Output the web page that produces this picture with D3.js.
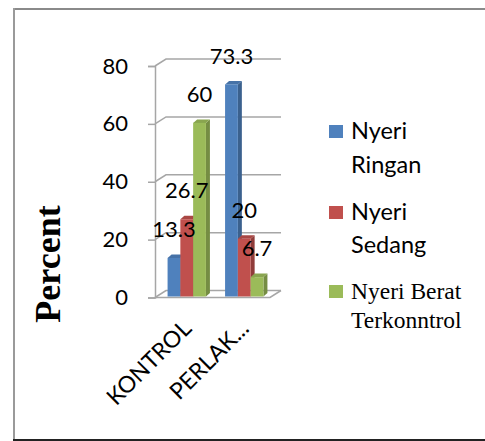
<!DOCTYPE html>
<html>
<head>
<meta charset="utf-8">
<script src="https://cdn.jsdelivr.net/npm/d3@7/dist/d3.min.js"></script>
<style>
  html, body { margin: 0; padding: 0; background: #fff; }
  svg { display: block; }
</style>
</head>
<body>
<svg id="chart" width="485" height="441"></svg>
<script>
// Chart data
const categories = ["KONTROL", "PERLAK..."];
const seriesNames = ["Nyeri Ringan", "Nyeri Sedang", "Nyeri Berat Terkonntrol"];
const nyeriRingan = [13.3, 73.3];
const nyeriSedang = [26.7, 20];
const nyeriBerat = [60, 6.7];
const yTicks = [0, 20, 40, 60, 80];
const seriesColors = ["#4F81BD", "#C0504D", "#9BBB59"];

const seriesValues = [nyeriRingan, nyeriSedang, nyeriBerat];

const svg = d3.select("#chart");
const sansFont = "Lato, 'Open Sans', sans-serif";
const serifFont = "'Liberation Serif', 'Times New Roman', serif";

// Outer frame
svg.append("line").attr("x1", 14).attr("y1", 9).attr("x2", 485).attr("y2", 9)
  .attr("stroke", "#8a8a8a").attr("stroke-width", 2);
svg.append("line").attr("x1", 14).attr("y1", 8).attr("x2", 14).attr("y2", 440)
  .attr("stroke", "#9a9a9a").attr("stroke-width", 2);
svg.append("line").attr("x1", 13).attr("y1", 440).attr("x2", 485).attr("y2", 440)
  .attr("stroke", "#222").attr("stroke-width", 2);

// Scales
const x = d3.scaleBand().domain(categories).range([155, 270]).paddingInner(0).paddingOuter(0);
const y = d3.scaleLinear().domain([0, 80]).range([297.5, 66]);

// 3D wall depth and bar depth
const wallDX = 11, wallDY = 7;
const barDX = 4, barDY = 3.5;
const gridColor = "#a6a6a6";

// Back wall gridlines (side wall diagonal + back wall horizontal)
const grid = svg.append("g");
yTicks.forEach(t => {
  const yy = y(t);
  grid.append("path")
    .attr("d", `M${x.range()[0]},${yy} L${x.range()[0] + wallDX},${yy - wallDY} L${x.range()[1] + wallDX},${yy - wallDY}`)
    .attr("fill", "none").attr("stroke", gridColor).attr("stroke-width", 1.5);
});
// Floor outline
const y0 = y(0);
grid.append("path")
  .attr("d", `M${x.range()[0]},${y0} L${x.range()[1]},${y0} L${x.range()[1] + wallDX},${y0 - wallDY}`)
  .attr("fill", "none").attr("stroke", gridColor).attr("stroke-width", 1.5);

// Value axis
const yAxis = d3.axisLeft(y).tickValues(yTicks).tickSize(7).tickPadding(20).tickFormat(d3.format("d"));
const axisG = svg.append("g").attr("transform", `translate(${x.range()[0]},0)`).call(yAxis);
axisG.select(".domain").attr("stroke", gridColor).attr("stroke-width", 1.5);
axisG.selectAll(".tick line").attr("stroke", gridColor).attr("stroke-width", 1.5);
axisG.selectAll(".tick text")
  .attr("font-family", sansFont)
  .attr("font-size", 22).attr("fill", "#000");

// Bars
const groupWidth = x.bandwidth() * 0.667;
const xs = d3.scaleBand().domain(d3.range(seriesNames.length)).range([0, groupWidth]);
const barShift = 3;   // bars sit slightly back inside the floor depth
const barLift = 1;

const bars = svg.append("g");
const labels = [];
categories.forEach((cat, ci) => {
  const gx = x(cat) + (x.bandwidth() - groupWidth) / 2 + barShift;
  seriesValues.forEach((vals, si) => {
    const v = vals[ci];
    const x0 = gx + xs(si);
    const w = xs.bandwidth();
    const top = y(v) - barLift;
    const bot = y(0) - barLift;
    const base = d3.color(seriesColors[si]);
    // side face
    bars.append("path")
      .attr("d", `M${x0 + w},${top} L${x0 + w + barDX},${top - barDY} L${x0 + w + barDX},${bot - barDY} L${x0 + w},${bot} Z`)
      .attr("fill", base.darker(0.8));
    // top face
    bars.append("path")
      .attr("d", `M${x0},${top} L${x0 + barDX},${top - barDY} L${x0 + w + barDX},${top - barDY} L${x0 + w},${top} Z`)
      .attr("fill", base.darker(0.35));
    // front face
    bars.append("rect")
      .attr("x", x0).attr("y", top).attr("width", w).attr("height", bot - top)
      .attr("fill", base);
    labels.push({ v, cx: x0 + w / 2, top });
  });
});

// Data labels
svg.append("g").selectAll("text").data(labels).join("text")
  .attr("x", d => d.cx)
  .attr("y", d => d.top - 28.5)
  .attr("dy", "0.35em")
  .attr("text-anchor", "middle")
  .attr("font-family", sansFont)
  .attr("font-size", 22)
  .attr("fill", "#000")
  .text(d => d.v);

// Category labels (rotated)
svg.append("g").selectAll("text").data(categories).join("text")
  .attr("transform", d => `translate(${x(d) + x.bandwidth() / 2 + 9},330) rotate(-45)`)
  .attr("text-anchor", "end")
  .attr("font-family", sansFont)
  .attr("font-size", 23)
  .attr("fill", "#000")
  .text(d => d);

// Axis title
svg.append("text")
  .attr("transform", "translate(60,264) rotate(-90)")
  .attr("text-anchor", "middle")
  .attr("font-family", serifFont)
  .attr("font-weight", "bold")
  .attr("font-size", 36)
  .attr("fill", "#000")
  .text("Percent");

// Legend
const legendItems = [
  { lines: ["Nyeri", "Ringan"], top: 125, font: sansFont, size: 23.5, lineGap: 34 },
  { lines: ["Nyeri", "Sedang"], top: 206, font: sansFont, size: 23.5, lineGap: 33 },
  { lines: ["Nyeri Berat", "Terkonntrol"], top: 285, font: serifFont, size: 23.5, lineGap: 29 }
];
const legend = svg.append("g");
legendItems.forEach((it, i) => {
  legend.append("rect").attr("x", 329).attr("y", it.top).attr("width", 14).attr("height", 13)
    .attr("fill", seriesColors[i]);
  const t = legend.append("text")
    .attr("font-family", it.font).attr("font-size", it.size).attr("fill", "#000");
  it.lines.forEach((ln, li) => {
    t.append("tspan").attr("x", 351).attr("y", it.top + 14 + li * it.lineGap).text(ln);
  });
});
</script>
</body>
</html>
